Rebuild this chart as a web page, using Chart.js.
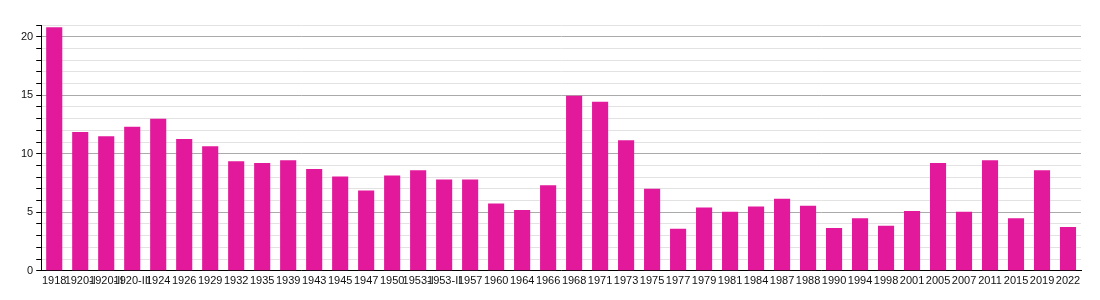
<!DOCTYPE html>
<html>
<head>
<meta charset="utf-8">
<script src="https://cdn.jsdelivr.net/npm/chart.js@4"></script>
<style>
  body { margin: 0; background: #fff; }
  #wrap { width: 1100px; height: 300px; }
</style>
</head>
<body>
<div id="wrap"><canvas id="bars" width="1100" height="300"></canvas></div>
<script>
const years = ['1918', '1920-I', '1920-II', '1920-III', '1924', '1926', '1929', '1932', '1935', '1939',
  '1943', '1945', '1947', '1950', '1953-I', '1953-II', '1957', '1960', '1964', '1966',
  '1968', '1971', '1973', '1975', '1977', '1979', '1981', '1984', '1987', '1988',
  '1990', '1994', '1998', '2001', '2005', '2007', '2011', '2015', '2019', '2022'];
const values = [20.8, 11.85, 11.5, 12.3, 13.0, 11.25, 10.65, 9.35, 9.2, 9.45,
  8.7, 8.05, 6.85, 8.15, 8.6, 7.8, 7.8, 5.75, 5.2, 7.3,
  14.95, 14.45, 11.15, 7.0, 3.6, 5.4, 5.05, 5.5, 6.15, 5.55,
  3.65, 4.5, 3.85, 5.1, 9.2, 5.05, 9.45, 4.5, 8.6, 3.75];
const yMax = 21;
const yMajor = 5;

const ctx = document.getElementById('bars').getContext('2d');

new Chart(ctx, {
  type: 'bar',
  data: {
    labels: years,
    datasets: [{
      data: values,
      backgroundColor: '#e3199b',
      borderWidth: 0,
      barPercentage: 0.62,
      categoryPercentage: 1
    }]
  },
  options: {
    responsive: false,
    animation: false,
    layout: { padding: { top: 25, right: 19, left: 18, bottom: 8 } },
    plugins: { legend: { display: false }, tooltip: { enabled: false } },
    scales: {
      x: {
        grid: { display: false, drawTicks: false },
        border: { color: '#000', width: 1 },
        ticks: {
          autoSkip: false,
          maxRotation: 0,
          padding: 4,
          color: '#111',
          font: { family: 'Liberation Sans', size: 11 }
        }
      },
      y: {
        min: 0,
        max: yMax,
        border: { color: '#000', width: 1 },
        grid: {
          color: c => (c.tick.value % yMajor === 0 ? '#aaaaaa' : '#e2e2e2'),
          tickColor: '#000',
          tickLength: 5
        },
        ticks: {
          stepSize: 1,
          autoSkip: false,
          padding: 3,
          color: '#111',
          font: { family: 'Liberation Sans', size: 11 },
          callback: v => (v % yMajor === 0 ? v : '')
        }
      }
    }
  }
});
</script>
</body>
</html>
